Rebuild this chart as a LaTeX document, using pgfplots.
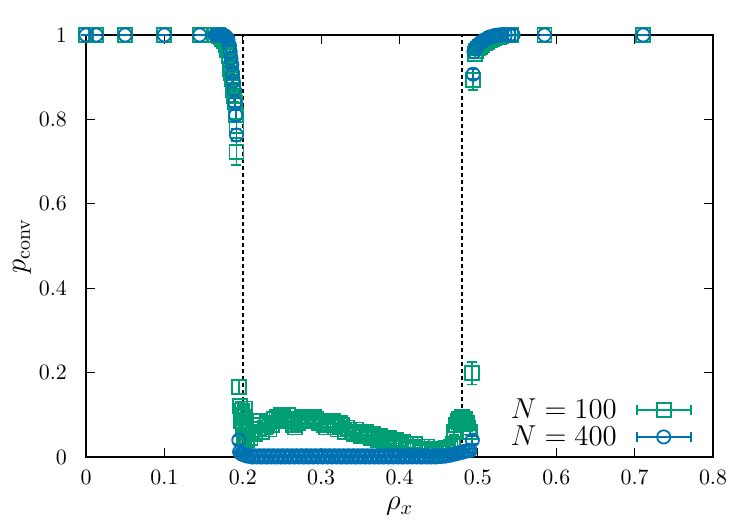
\documentclass[border=0pt]{standalone}
\usepackage{pgfplots}
\usepackage{pgfplotstable}
\pgfplotsset{compat=1.18}
\definecolor{cgreen}{HTML}{009E73}
\definecolor{cblue}{HTML}{0072B2}

\pgfplotstableread{
x y e
0 1 0
0.013 1 0
0.05 1 0
0.1 1 0
0.145 1 0
0.165 1.0 0.003
0.168 1.0 0.003
0.170 0.998 0.003
0.172 0.995 0.004
0.174 0.99 0.005
0.176 0.985 0.005
0.178 0.975 0.006
0.180 0.965 0.007
0.182 0.95 0.008
0.183 0.935 0.009
0.184 0.92 0.01
0.185 0.91 0.01
0.186 0.895 0.011
0.187 0.88 0.012
0.188 0.87 0.012
0.189 0.855 0.013
0.190 0.84 0.014
0.191 0.81 0.015
0.192 0.785 0.016
0.192 0.723 0.032
0.195 0.165 0.017
0.196 0.12 0.01
0.197 0.10 0.01
0.198 0.085 0.01
0.199 0.11 0.01
0.200 0.07 0.01
0.201 0.095 0.01
0.202 0.05 0.01
0.203 0.115 0.01
0.204 0.08 0.01
0.205 0.04 0.008
0.207 0.06 0.008
0.210 0.045 0.008
0.213 0.065 0.008
0.216 0.055 0.008
0.219 0.075 0.008
0.222 0.085 0.008
0.225 0.06 0.008
0.228 0.07 0.008
0.231 0.08 0.008
0.234 0.065 0.008
0.237 0.075 0.008
0.240 0.09 0.008
0.243 0.095 0.008
0.246 0.085 0.008
0.249 0.1 0.008
0.252 0.095 0.008
0.255 0.09 0.008
0.258 0.1 0.008
0.261 0.085 0.008
0.264 0.075 0.008
0.267 0.07 0.008
0.270 0.08 0.008
0.273 0.09 0.008
0.276 0.095 0.008
0.279 0.085 0.008
0.282 0.095 0.008
0.285 0.09 0.008
0.288 0.085 0.008
0.291 0.095 0.008
0.294 0.09 0.008
0.297 0.08 0.008
0.300 0.085 0.008
0.303 0.075 0.008
0.306 0.07 0.008
0.309 0.08 0.008
0.312 0.075 0.008
0.315 0.085 0.008
0.318 0.07 0.008
0.321 0.065 0.008
0.324 0.08 0.008
0.327 0.075 0.008
0.330 0.06 0.008
0.333 0.07 0.008
0.336 0.065 0.008
0.339 0.06 0.008
0.342 0.055 0.008
0.345 0.065 0.008
0.348 0.06 0.008
0.351 0.05 0.008
0.354 0.055 0.008
0.357 0.06 0.008
0.360 0.05 0.008
0.363 0.045 0.008
0.366 0.055 0.008
0.369 0.045 0.008
0.372 0.04 0.008
0.375 0.05 0.008
0.378 0.045 0.008
0.381 0.035 0.008
0.384 0.04 0.008
0.387 0.045 0.008
0.390 0.035 0.008
0.393 0.03 0.008
0.396 0.04 0.008
0.399 0.035 0.008
0.402 0.03 0.008
0.405 0.035 0.008
0.408 0.03 0.008
0.411 0.025 0.008
0.414 0.03 0.008
0.417 0.025 0.008
0.420 0.03 0.008
0.423 0.025 0.008
0.426 0.02 0.008
0.429 0.025 0.008
0.432 0.02 0.008
0.435 0.025 0.008
0.438 0.02 0.008
0.441 0.015 0.008
0.444 0.02 0.008
0.447 0.015 0.008
0.450 0.02 0.008
0.453 0.018 0.008
0.456 0.02 0.008
0.459 0.022 0.008
0.462 0.02 0.008
0.465 0.025 0.008
0.468 0.03 0.008
0.470 0.06 0.008
0.472 0.075 0.008
0.474 0.085 0.008
0.476 0.09 0.008
0.478 0.08 0.008
0.480 0.095 0.008
0.482 0.085 0.008
0.484 0.09 0.008
0.486 0.08 0.008
0.488 0.07 0.008
0.490 0.06 0.008
0.492 0.199 0.027
0.494 0.894 0.025
0.496 0.955 0.01
0.498 0.962 0.009
0.500 0.968 0.008
0.503 0.972 0.007
0.506 0.976 0.006
0.509 0.98 0.006
0.512 0.984 0.005
0.515 0.987 0.005
0.518 0.99 0.004
0.521 0.992 0.004
0.524 0.994 0.003
0.527 0.996 0.003
0.530 0.998 0.002
0.534 0.999 0.002
0.538 1.0 0
0.542 1.0 0
0.585 1.0 0
0.711 1.0 0
}\tableA

\pgfplotstableread{
x y e
0 1 0
0.013 1 0
0.05 1 0
0.1 1 0
0.145 1 0
0.165 1 0
0.167 1 0
0.169 1 0
0.171 1 0
0.173 1 0
0.175 0.999 0.001
0.177 0.998 0.002
0.179 0.995 0.003
0.181 0.99 0.004
0.183 0.975 0.005
0.184 0.96 0.006
0.185 0.945 0.007
0.186 0.93 0.008
0.187 0.91 0.009
0.188 0.89 0.01
0.189 0.87 0.01
0.190 0.84 0.011
0.191 0.81 0.012
0.192 0.763 0.015
0.195 0.04 0.01
0.196 0.012 0.003
0.198 0.008 0.003
0.200 0.006 0.002
0.203 0.004 0.002
0.206 0.002 0.001
0.209 0.004 0.001
0.212 0 0
0.215 0.003 0.001
0.218 0 0
0.221 0.003 0.001
0.224 0 0
0.227 0.003 0.001
0.230 0 0
0.233 0.003 0.001
0.236 0 0
0.239 0.003 0.001
0.242 0 0
0.245 0.003 0.001
0.248 0 0
0.251 0.003 0.001
0.254 0 0
0.257 0.003 0.001
0.260 0 0
0.263 0.003 0.001
0.266 0 0
0.269 0.003 0.001
0.272 0 0
0.275 0.003 0.001
0.278 0 0
0.281 0.003 0.001
0.284 0 0
0.287 0.003 0.001
0.290 0 0
0.293 0.003 0.001
0.296 0 0
0.299 0.003 0.001
0.302 0 0
0.305 0.003 0.001
0.308 0 0
0.311 0.003 0.001
0.314 0 0
0.317 0.003 0.001
0.320 0 0
0.323 0.003 0.001
0.326 0 0
0.329 0.003 0.001
0.332 0 0
0.335 0.003 0.001
0.338 0 0
0.341 0.003 0.001
0.344 0 0
0.347 0.003 0.001
0.350 0 0
0.353 0.003 0.001
0.356 0 0
0.359 0.003 0.001
0.362 0 0
0.365 0.003 0.001
0.368 0 0
0.371 0.003 0.001
0.374 0 0
0.377 0.003 0.001
0.380 0 0
0.383 0.003 0.001
0.386 0 0
0.389 0.003 0.001
0.392 0 0
0.395 0.003 0.001
0.398 0 0
0.401 0.003 0.001
0.404 0 0
0.407 0.003 0.001
0.410 0 0
0.413 0.003 0.001
0.416 0 0
0.419 0.003 0.001
0.422 0 0
0.425 0.003 0.001
0.428 0 0
0.431 0.003 0.001
0.434 0 0
0.437 0.003 0.001
0.440 0 0
0.443 0.003 0.001
0.446 0 0
0.449 0.003 0.001
0.452 0.001 0
0.455 0.003 0.001
0.458 0.002 0.001
0.461 0.004 0.001
0.464 0.004 0.001
0.467 0.006 0.002
0.470 0.007 0.002
0.473 0.008 0.002
0.476 0.01 0.003
0.479 0.011 0.003
0.482 0.013 0.003
0.485 0.014 0.004
0.488 0.016 0.004
0.490 0.015 0.004
0.493 0.04 0.01
0.494 0.907 0.012
0.495 0.96 0.006
0.497 0.968 0.005
0.499 0.975 0.005
0.502 0.98 0.004
0.505 0.984 0.004
0.508 0.988 0.003
0.511 0.991 0.003
0.514 0.994 0.002
0.517 0.996 0.002
0.520 0.998 0.001
0.523 0.999 0.001
0.526 1 0
0.530 1 0
0.535 1 0
0.540 1 0
0.545 1 0
0.585 1 0
0.711 1 0
}\tableB

\pgfplotsset{
 errlegend/.style={legend image code/.code={
   \draw[##1,mark=none,solid,line width=0.9pt] (0pt,0pt) -- (27pt,0pt) (0pt,-2.5pt) -- (0pt,2.5pt) (27pt,-2.5pt) -- (27pt,2.5pt);
   \draw[##1] plot coordinates {(13.5pt,0pt)};
 }}
}

\begin{document}
\begin{tikzpicture}
\begin{axis}[
 scale only axis, width=313.5pt, height=211pt,
 xmin=0, xmax=0.8, ymin=0, ymax=1,
 xtick={0,0.1,0.2,0.3,0.4,0.5,0.6,0.7,0.8},
 ytick={0,0.2,0.4,0.6,0.8,1},
 tick align=inside, major tick length=4.5pt,
 axis line style={line width=0.75pt},
 every tick/.style={line width=0.6pt, black},
 clip=false,
 ticklabel style={font=\fontsize{10.5}{12}\selectfont},
 xticklabel style={yshift=-3pt},
 yticklabel style={xshift=-6pt},
 xlabel={$\rho_x$}, ylabel={$p_{\mathrm{conv}}$},
 label style={font=\fontsize{14.5}{16}\selectfont, inner sep=0pt},
 xlabel style={at={(axis description cs:0.5,-0.117)}, anchor=center},
 ylabel style={at={(axis description cs:-0.102,0.5)}, anchor=center},
 legend plot pos=right,
 legend cell align=right,
 legend style={at={(axis description cs:0.9665,0.14)}, anchor=north east,
   draw=none, fill=none, inner sep=0pt, row sep=2.3pt, column sep=9.5pt,
   nodes={inner sep=0pt},
   font=\fontsize{15}{16}\selectfont},
]
\addplot[black, line width=0.75pt, dash pattern=on 2pt off 1.5pt, forget plot] coordinates {(0.2,0) (0.2,1)};
\addplot[black, line width=0.75pt, dash pattern=on 2pt off 1.5pt, forget plot] coordinates {(0.48,0) (0.48,1)};

\addplot[cgreen, only marks, mark=square, mark size=3.5pt, line width=0.9pt, errlegend,
  error bars/.cd, y dir=both, y explicit,
  error bar style={line width=0.9pt},
  error mark options={rotate=90, mark size=2.5pt, line width=0.9pt}]
  table[x=x, y=y, y error=e] {\tableA};
\addlegendentry{$N = 100$}

\addplot[cblue, only marks, mark=o, mark size=3.3pt, line width=0.9pt, errlegend,
  error bars/.cd, y dir=both, y explicit,
  error bar style={line width=0.9pt},
  error mark options={rotate=90, mark size=2.5pt, line width=0.9pt}]
  table[x=x, y=y, y error=e] {\tableB};
\addlegendentry{$N = 400$}
\end{axis}
\pgfresetboundingbox
\path[use as bounding box] ([shift={(-43pt,-33pt)}]current axis.south west) rectangle ([shift={(20pt,17.5pt)}]current axis.north east);
\end{tikzpicture}
\end{document}
